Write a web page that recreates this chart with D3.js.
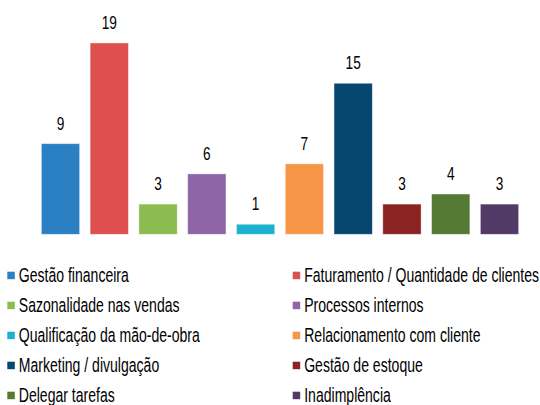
<!DOCTYPE html>
<html>
<head>
<meta charset="utf-8">
<script src="https://cdn.jsdelivr.net/npm/d3@7"></script>
<style>
  body { margin: 0; background: #fff; }
  svg { display: block; }
  text { font-family: "Liberation Sans", Arial, sans-serif; fill: #000; }
</style>
</head>
<body>
<svg id="chart" width="540" height="405"></svg>
<script>
var categories = [
    "Gestão financeira",
    "Faturamento / Quantidade de clientes",
    "Sazonalidade nas vendas",
    "Processos internos",
    "Qualificação da mão-de-obra",
    "Relacionamento com cliente",
    "Marketing / divulgação",
    "Gestão de estoque",
    "Delegar tarefas",
    "Inadimplência"
];
var values = [9, 19, 3, 6, 1, 7, 15, 3, 4, 3];
var colors = ["#2a80c3", "#de4f4f", "#8cbc4f", "#8e66a8", "#1ab2cc",
              "#f79646", "#06466f", "#8b2323", "#557a33", "#513a66"];

var svg = d3.select("#chart");
var squeeze = 0.72;   // narrow font look

var baseline = 234.3,
    unit = 10.07;

var x = d3.scaleBand()
    .domain(categories)
    .range([36.1, 523.9])
    .paddingInner(0.215)
    .paddingOuter(0.1075);

var y = d3.scaleLinear()
    .domain([0, 1])
    .range([baseline, baseline - unit]);

var color = d3.scaleOrdinal().domain(categories).range(colors);

var g = svg.append("g");

g.selectAll(".bar")
    .data(categories)
    .enter().append("rect")
    .attr("class", "bar")
    .attr("x", function(d) { return x(d); })
    .attr("y", function(d, i) { return y(values[i]); })
    .attr("width", x.bandwidth())
    .attr("height", function(d, i) { return baseline - y(values[i]); })
    .attr("fill", function(d) { return color(d); })
    .attr("stroke", "#ffffff")
    .attr("stroke-opacity", 0.5)
    .attr("stroke-width", 0.8);

g.selectAll(".val")
    .data(categories)
    .enter().append("text")
    .attr("class", "val")
    .attr("transform", function(d, i) {
        return "translate(" + (x(d) + x.bandwidth() / 2) + "," + (y(values[i]) - 14) + ") scale(" + squeeze + ",1)";
    })
    .attr("text-anchor", "middle")
    .attr("font-size", "19px")
    .text(function(d, i) { return values[i]; });

// legend, two columns
var legend = svg.append("g").selectAll(".leg")
    .data(categories)
    .enter().append("g")
    .attr("class", "leg")
    .attr("transform", function(d, i) {
        var col = i % 2, row = Math.floor(i / 2);
        return "translate(" + (col === 0 ? 7.3 : 292.7) + "," + (281.7 + row * 30) + ")";
    });

legend.append("rect")
    .attr("x", 0)
    .attr("y", -10)
    .attr("width", 7.5)
    .attr("height", 7.5)
    .attr("fill", function(d) { return color(d); });

legend.append("text")
    .attr("transform", "translate(11.5,0) scale(" + squeeze + ",1)")
    .attr("font-size", "19.5px")
    .text(function(d) { return d; });
</script>
</body>
</html>
